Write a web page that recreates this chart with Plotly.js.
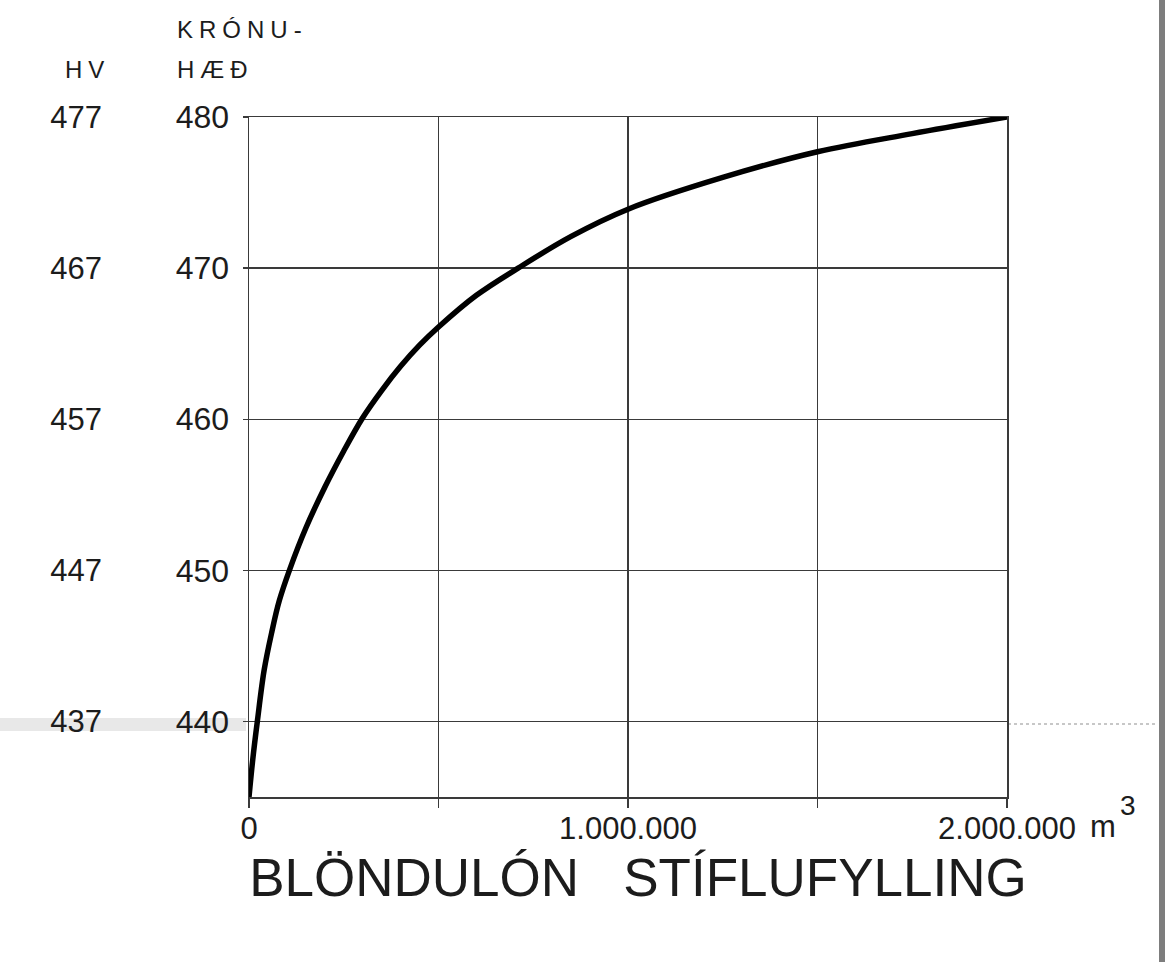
<!DOCTYPE html>
<html>
<head>
<meta charset="utf-8">
<script src="https://cdn.plot.ly/plotly-3.0.1.min.js"></script>
<style>
html,body{margin:0;padding:0;background:#fff;}
#chart{width:1165px;height:962px;}
.annotation-text{letter-spacing:6px;}
</style>
</head>
<body>
<div id="chart"></div>
<script>
// Volume of dam fill (m3) vs crest height (krónuhæð)
const volume = [0, 10000, 22000, 40000, 60000, 80000, 108000, 150000, 200000, 250000, 300000, 350000, 400000, 450000, 500000, 600000, 710000, 850000, 1000000, 1250000, 1500000, 1750000, 2000000];
const kronuhaed = [435, 437.5, 440, 443.4, 445.9, 448.0, 450.1, 452.8, 455.5, 457.9, 460.1, 461.9, 463.5, 464.9, 466.1, 468.2, 470.0, 472.1, 473.9, 476.0, 477.7, 478.9, 480];

const xTickVals = [0, 500000, 1000000, 1500000, 2000000];
const xTickText = ['0', '', '1.000.000', '', '2.000.000'];
const yTickVals = [440, 450, 460, 470, 480];
const yTickText = ['440', '450', '460', '470', '480'];
const hvTickVals = [437, 447, 457, 467, 477];
const hvTickText = ['437', '447', '457', '467', '477'];

const FONT = 'Liberation Sans, Arial, sans-serif';
const INK = '#1c1c1c';
const GRID = '#3a3a3a';

const L = 249, R = 1007, T = 117, B = 797;
const W = 1165, H = 962;
const px = v => (v - L) / (R - L);
const py = v => (B - v) / (B - T);

const trace = {
  x: volume, y: kronuhaed, type: 'scatter', mode: 'lines',
  line: {color: '#000', width: 5.5, shape: 'spline', smoothing: 1},
  hoverinfo: 'skip', showlegend: false
};
const dummy = {x: [0], y: [440], yaxis: 'y2', mode: 'none', type: 'scatter', showlegend: false, hoverinfo: 'skip'};

const layout = {
  width: W, height: H,
  margin: {l: L, r: W - R, t: T, b: H - B, pad: 0},
  paper_bgcolor: '#fff', plot_bgcolor: '#fff',
  font: {family: FONT, color: INK},
  showlegend: false,
  title: {text: 'BLÖNDULÓN   STÍFLUFYLLING', font: {family: FONT, size: 53, color: INK},
          x: 638 / W, xanchor: 'center', xref: 'container', y: 1 - 877 / H, yanchor: 'middle', yref: 'container'},
  xaxis: {
    range: [0, 2000000], tickmode: 'array', tickvals: xTickVals, ticktext: xTickText,
    showgrid: true, gridcolor: GRID, gridwidth: 1.3, zeroline: false,
    showline: true, linecolor: GRID, linewidth: 1.5, mirror: true,
    ticks: 'outside', ticklen: 9, tickcolor: GRID, tickwidth: 1.3,
    tickfont: {family: FONT, size: 31, color: INK}, ticklabelstandoff: -6, fixedrange: true
  },
  yaxis: {
    range: [435, 480], tickmode: 'array', tickvals: yTickVals, ticktext: yTickText,
    showgrid: true, gridcolor: GRID, gridwidth: 1.3, zeroline: false,
    showline: true, linecolor: GRID, linewidth: 1.5, mirror: true,
    ticks: 'outside', ticklen: 5, tickcolor: GRID, tickwidth: 1.3,
    tickfont: {family: FONT, size: 32, color: INK}, ticklabelstandoff: 7, fixedrange: true
  },
  yaxis2: {
    overlaying: 'y', side: 'left', anchor: 'x', range: [432, 477],
    tickmode: 'array', tickvals: hvTickVals, ticktext: hvTickText,
    showgrid: false, zeroline: false, showline: false, ticks: '',
    tickfont: {family: FONT, size: 31, color: INK}, ticklabelstandoff: 146, fixedrange: true
  },
  annotations: [
    {text: 'KRÓNU-', xref: 'paper', yref: 'paper', x: px(175), y: py(29), xanchor: 'left', yanchor: 'middle', showarrow: false, font: {family: FONT, size: 24, color: INK}},
    {text: 'HÆÐ', xref: 'paper', yref: 'paper', x: px(175), y: py(69), xanchor: 'left', yanchor: 'middle', showarrow: false, font: {family: FONT, size: 24, color: INK}},
    {text: 'HV', xref: 'paper', yref: 'paper', x: px(63), y: py(69), xanchor: 'left', yanchor: 'middle', showarrow: false, font: {family: FONT, size: 24, color: INK}},
    {text: 'm', xref: 'paper', yref: 'paper', x: px(1088), y: py(826), xanchor: 'left', yanchor: 'middle', showarrow: false, font: {family: FONT, size: 31, color: INK}},
    {text: '3', xref: 'paper', yref: 'paper', x: px(1118), y: py(805), xanchor: 'left', yanchor: 'middle', showarrow: false, font: {family: FONT, size: 28, color: INK}}
  ],
  shapes: [
    {type: 'rect', xref: 'paper', yref: 'paper', x0: px(1159), x1: px(1166), y0: py(-2), y1: py(964), fillcolor: '#7d7d7d', line: {width: 0}, layer: 'above'},
    {type: 'rect', xref: 'paper', yref: 'paper', x0: px(-2), x1: px(246), y0: py(718), y1: py(731), fillcolor: 'rgba(150,150,150,0.22)', line: {width: 0}, layer: 'below'},
    {type: 'line', xref: 'paper', yref: 'paper', x0: px(1008), x1: px(1157), y0: py(724), y1: py(724), line: {color: 'rgba(120,120,120,0.55)', width: 1.3, dash: 'dot'}, layer: 'below'}
  ]
};

Plotly.newPlot('chart', [trace, dummy], layout, {displayModeBar: false, staticPlot: true});
</script>
</body>
</html>
